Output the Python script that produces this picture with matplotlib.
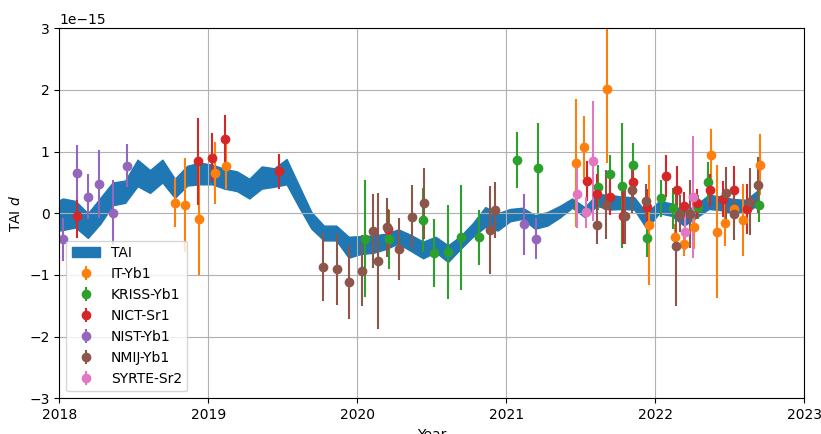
import numpy as np
import matplotlib
matplotlib.use('Agg')
import matplotlib.pyplot as plt

# TAI band, monthly points (units of 1e-15)
tai_year = 2017.942 + np.arange(58) / 12
tai_upper = [0.15, 0.24, 0.20, 0.00, 0.25, 0.50, 0.53, 0.87, 0.70, 0.87, 0.56, 0.77,
             0.82, 0.79, 0.72, 0.68, 0.56, 0.76, 0.73, 0.88, 0.45, 0.02, -0.20, -0.20,
             -0.38, -0.37, -0.36, -0.33, -0.26, -0.35, -0.46, -0.38, -0.52, -0.37, -0.16, 0.10,
             0.00, 0.07, 0.09, -0.03, 0.02, 0.12, 0.24, 0.10, 0.31, 0.30, 0.27, 0.26,
             0.00, 0.20, 0.16, 0.02, 0.14, 0.30, 0.27, 0.23, 0.22, 0.38]
tai_lower = [-0.30, -0.27, -0.23, -0.40, -0.17, 0.13, 0.17, 0.44, 0.33, 0.50, 0.25, 0.45,
             0.47, 0.47, 0.40, 0.36, 0.24, 0.40, 0.43, 0.47, 0.10, -0.25, -0.44, -0.44,
             -0.72, -0.66, -0.64, -0.58, -0.49, -0.61, -0.73, -0.63, -0.79, -0.58, -0.38, -0.22,
             -0.28, -0.13, -0.09, -0.25, -0.20, -0.07, 0.09, -0.06, 0.12, 0.06, 0.07, 0.06,
             -0.25, 0.00, -0.04, -0.20, -0.07, 0.07, 0.05, 0.00, 0.02, 0.14]

# IT-Yb1
it_x = [2018.777, 2018.844, 2018.940, 2019.045, 2019.117,
        2021.468, 2021.521, 2021.678, 2021.960, 2022.132, 2022.195, 2022.258,
        2022.374, 2022.412, 2022.470, 2022.530, 2022.586, 2022.703]
it_y = [0.17, 0.135, -0.10, 0.65, 0.77,
        0.82, 1.07, 2.01, -0.19, -0.38, -0.50, -0.23,
        0.945, -0.30, -0.15, 0.07, -0.11, 0.79]
it_err = [0.40, 0.76, 0.90, 0.50, 0.38,
          1.04, 0.50, 1.20, 0.98, 0.20, 0.20, 0.35,
          0.42, 1.08, 0.38, 0.30, 0.58, 0.50]

# KRISS-Yb1
kriss_x = [2020.052, 2020.213, 2020.443, 2020.515, 2020.611, 2020.696, 2020.819,
           2021.074, 2021.210, 2021.618, 2021.696, 2021.779, 2021.850, 2021.946,
           2022.038, 2022.117, 2022.285, 2022.356, 2022.696]
kriss_y = [-0.41, -0.42, -0.11, -0.64, -0.63, -0.39, -0.39,
           0.865, 0.73, 0.42, 0.64, 0.45, 0.79, -0.395,
           0.24, 0.08, 0.10, 0.51, 0.135]
kriss_err = [0.95, 0.48, 0.52, 0.55, 0.76, 0.85, 0.45,
             0.45, 0.73, 0.37, 0.30, 1.02, 0.35, 0.32,
             0.30, 0.33, 0.20, 0.32, 0.27]

# NICT-Sr1
nict_x = [2018.117, 2018.929, 2019.025, 2019.112, 2019.477, 2020.205,
          2021.544, 2021.611, 2021.696, 2021.781, 2021.853, 2021.942,
          2022.070, 2022.144, 2022.195, 2022.280, 2022.367, 2022.452, 2022.528, 2022.613]
nict_y = [-0.05, 0.84, 0.90, 1.20, 0.68, -0.26,
          0.52, 0.31, 0.27, -0.05, 0.50, 0.10,
          0.60, 0.37, 0.12, 0.16, 0.37, 0.23, 0.38, 0.07]
nict_err = [0.35, 0.71, 0.40, 0.39, 0.28, 0.33,
            0.32, 0.33, 0.30, 0.45, 0.27, 0.30,
            0.34, 0.40, 0.23, 0.23, 0.26, 0.29, 0.38, 0.40]

# NIST-Yb1
nist_x = [2018.027, 2018.117, 2018.195, 2018.268, 2018.362, 2018.452, 2021.121, 2021.199]
nist_y = [-0.42, 0.66, 0.27, 0.475, 0.01, 0.77, -0.18, -0.41]
nist_err = [0.35, 0.45, 0.37, 0.55, 0.53, 0.35, 0.50, 0.33]

# NMIJ-Yb1
nmij_x = [2019.772, 2019.862, 2019.942, 2020.032, 2020.103, 2020.141, 2020.201,
          2020.282, 2020.367, 2020.450, 2020.891, 2020.924,
          2021.611, 2021.669, 2021.797, 2021.842, 2021.938, 2022.139, 2022.166,
          2022.233, 2022.472, 2022.528, 2022.636, 2022.691]
nmij_y = [-0.87, -0.91, -1.11, -0.93, -0.29, -0.77, -0.23,
          -0.58, -0.055, 0.16, -0.27, 0.05,
          -0.19, 0.135, -0.05, 0.37, 0.20, -0.53, -0.01,
          -0.01, 0.33, -0.01, 0.19, 0.46]
nmij_err = [0.55, 0.57, 0.60, 0.58, 0.60, 1.10, 0.48,
            0.50, 0.52, 0.57, 0.71, 0.45,
            0.30, 0.56, 0.45, 0.37, 0.28, 0.97, 0.30,
            0.55, 0.42, 0.42, 0.55, 0.45]

# SYRTE-Sr2
syrte_x = [2021.477, 2021.533, 2021.580, 2022.201, 2022.250]
syrte_y = [0.31, 0.015, 0.85, -0.30, 0.26]
syrte_err = [0.55, 0.25, 0.97, 0.30, 0.99]

clocks = [
    ('IT-Yb1', it_x, it_y, it_err),
    ('KRISS-Yb1', kriss_x, kriss_y, kriss_err),
    ('NICT-Sr1', nict_x, nict_y, nict_err),
    ('NIST-Yb1', nist_x, nist_y, nist_err),
    ('NMIJ-Yb1', nmij_x, nmij_y, nmij_err),
    ('SYRTE-Sr2', syrte_x, syrte_y, syrte_err),
]
colors = ['tab:orange', 'tab:green', 'tab:red', 'tab:purple', 'tab:brown', 'tab:pink']

scale = 1e-15

fig = plt.figure(figsize=(8.21, 4.34), dpi=100)
ax = fig.add_axes([0.0722, 0.0823, 0.9075, 0.8525])

ax.fill_between(tai_year, np.array(tai_lower) * scale, np.array(tai_upper) * scale,
                color='tab:blue', label='TAI')

for (name, x, y, e), c in zip(clocks, colors):
    ax.errorbar(x, np.array(y) * scale, yerr=np.array(e) * scale, fmt='o',
                color=c, label=name)

ax.set_xlim(2018, 2023)
ax.set_ylim(-3e-15, 3e-15)
ax.set_xticks([2018, 2019, 2020, 2021, 2022, 2023])
ax.set_xticklabels(['2018', '2019', '2020', '2021', '2022', '2023'])
ax.grid(True)
ax.set_xlabel('Year')
ax.set_ylabel('TAI $d$')
ax.legend(loc='lower left')

fig.savefig('out.png', dpi=100)
